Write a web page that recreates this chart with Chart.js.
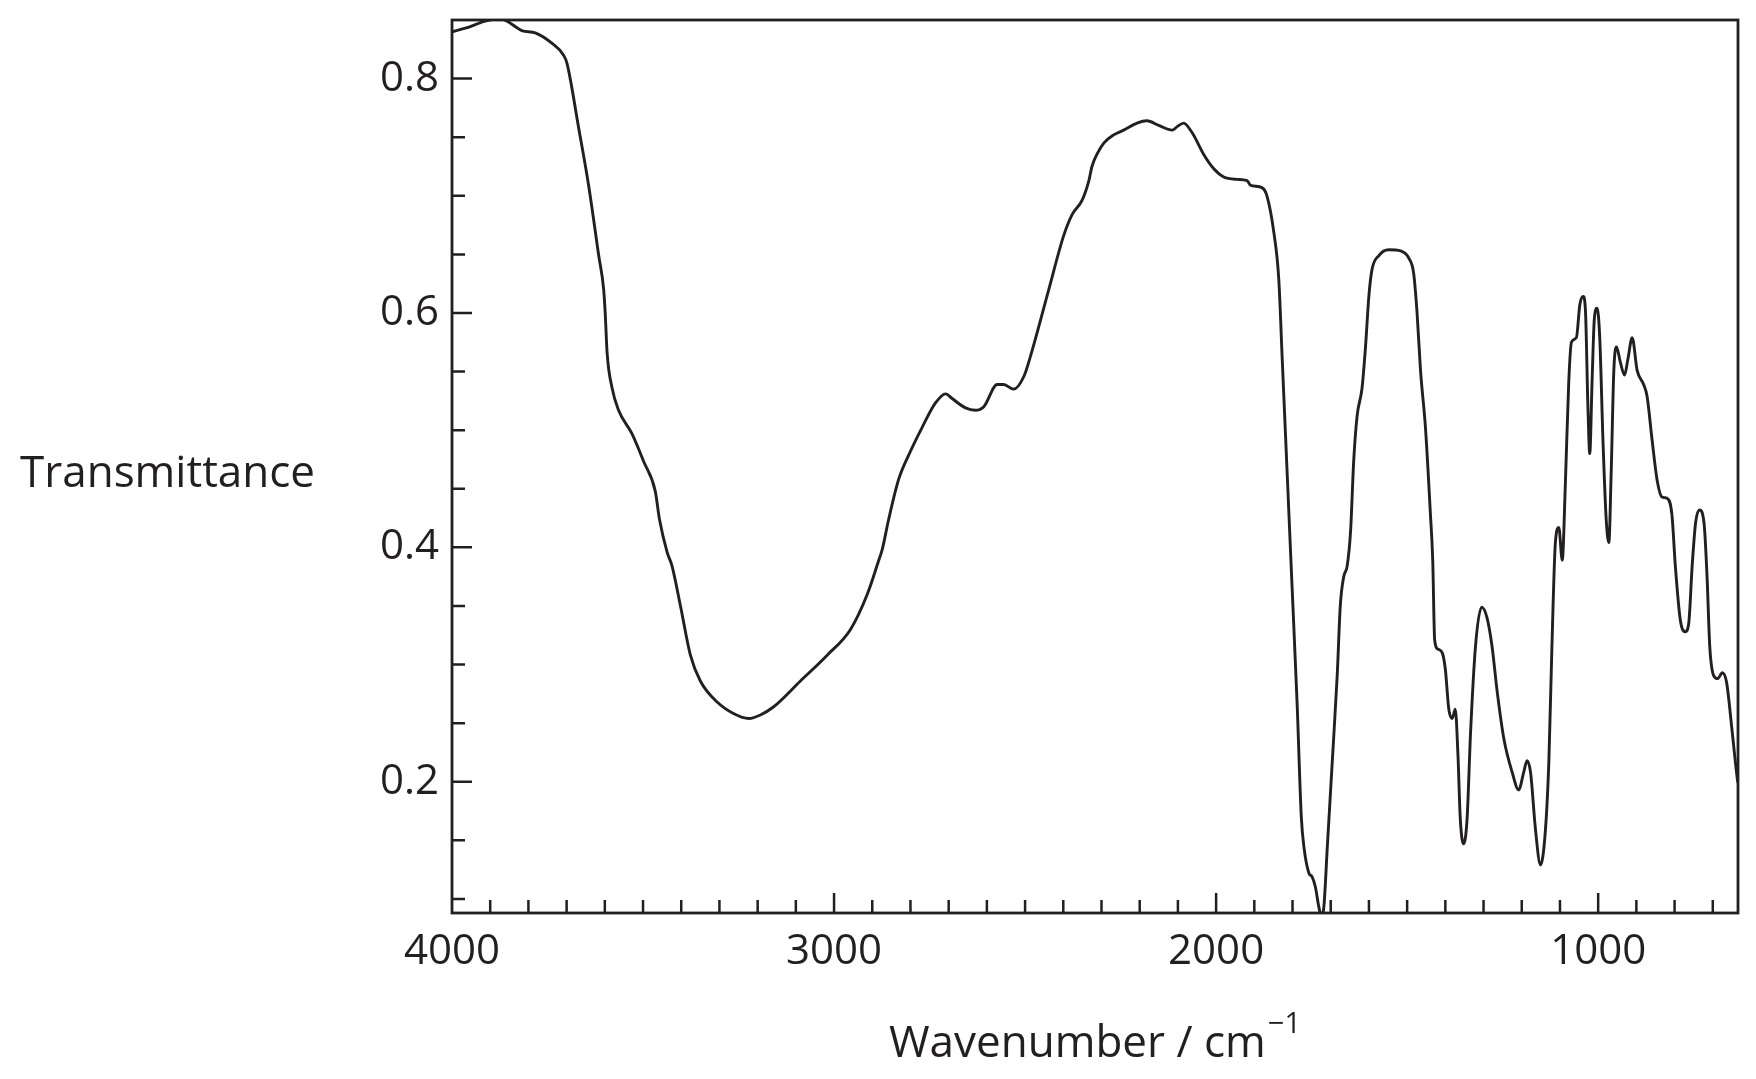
<!DOCTYPE html>
<html>
<head>
<meta charset="utf-8">
<script src="https://cdn.jsdelivr.net/npm/chart.js@4.4.1/dist/chart.umd.min.js"></script>
<style>
html, body { margin: 0; padding: 0; background: #fff; }
#wrap { width: 1756px; height: 1079px; }
</style>
</head>
<body>
<div id="wrap"><canvas id="ir-chart" width="1756" height="1079"></canvas></div>
<script>
// IR spectrum
const wavenumbers = [
	4000, 3965, 3913, 3873, 3856, 3817, 3782, 3738, 3708, 3699,
	3668, 3642, 3616, 3603, 3599, 3594, 3581, 3564, 3529, 3498,
	3468, 3457, 3437, 3424, 3402, 3376, 3350, 3306, 3262, 3223,
	3193, 3158, 3088, 3018, 2957, 2913, 2883, 2874, 2857, 2831,
	2800, 2770, 2735, 2708, 2691, 2656, 2630, 2608, 2573, 2556,
	2530, 2503, 2486, 2438, 2399, 2377, 2351, 2333, 2325, 2311,
	2294, 2268, 2242, 2207, 2181, 2150, 2115, 2102, 2085, 2063,
	2032, 2006, 1980, 1945, 1919, 1910, 1880, 1867, 1849, 1836,
	1827, 1814, 1801, 1788, 1777, 1770, 1757, 1749, 1740, 1731,
	1724, 1718, 1709, 1696, 1683, 1675, 1666, 1657, 1648, 1640,
	1631, 1618, 1609, 1600, 1592, 1574, 1548, 1517, 1496, 1483,
	1474, 1465, 1452, 1439, 1433, 1428, 1419, 1408, 1400, 1391,
	1382, 1374, 1367, 1361, 1352, 1343, 1334, 1321, 1305, 1291,
	1278, 1264, 1247, 1225, 1208, 1195, 1186, 1177, 1164, 1151,
	1138, 1129, 1121, 1112, 1103, 1094, 1086, 1077, 1070, 1057,
	1048, 1039, 1033, 1027, 1022, 1016, 1010, 1003, 996, 987,
	979, 972, 966, 959, 952, 942, 931, 922, 911, 898,
	881, 872, 859, 846, 833, 820, 807, 798, 785, 772,
	763, 754, 745, 735, 723, 715, 708, 697, 687, 675,
	664, 649, 636, 634
];
const transmittance = [
	0.840, 0.843, 0.849, 0.851, 0.849, 0.841, 0.839, 0.830, 0.820, 0.813,
	0.757, 0.708, 0.649, 0.620, 0.600, 0.566, 0.536, 0.517, 0.497, 0.473,
	0.448, 0.424, 0.396, 0.384, 0.350, 0.308, 0.286, 0.268, 0.258, 0.254,
	0.257, 0.264, 0.286, 0.308, 0.330, 0.360, 0.389, 0.398, 0.424, 0.458,
	0.482, 0.502, 0.523, 0.531, 0.527, 0.519, 0.517, 0.520, 0.539, 0.539,
	0.535, 0.546, 0.563, 0.620, 0.666, 0.684, 0.696, 0.713, 0.725, 0.736,
	0.745, 0.752, 0.756, 0.762, 0.764, 0.760, 0.756, 0.759, 0.762, 0.754,
	0.735, 0.723, 0.716, 0.714, 0.713, 0.709, 0.707, 0.700, 0.669, 0.629,
	0.561, 0.463, 0.365, 0.267, 0.170, 0.144, 0.122, 0.119, 0.110, 0.093,
	0.085, 0.093, 0.144, 0.217, 0.291, 0.350, 0.375, 0.384, 0.414, 0.473,
	0.512, 0.536, 0.571, 0.615, 0.637, 0.649, 0.654, 0.653, 0.647, 0.634,
	0.600, 0.551, 0.502, 0.428, 0.389, 0.321, 0.313, 0.310, 0.296, 0.262,
	0.254, 0.262, 0.223, 0.169, 0.147, 0.169, 0.242, 0.316, 0.349, 0.340,
	0.316, 0.276, 0.237, 0.208, 0.193, 0.208, 0.218, 0.208, 0.159, 0.129,
	0.159, 0.218, 0.316, 0.404, 0.417, 0.389, 0.453, 0.541, 0.575, 0.579,
	0.607, 0.614, 0.600, 0.522, 0.480, 0.541, 0.595, 0.604, 0.580, 0.487,
	0.424, 0.404, 0.463, 0.551, 0.571, 0.558, 0.547, 0.561, 0.579, 0.551,
	0.539, 0.529, 0.492, 0.458, 0.443, 0.442, 0.428, 0.384, 0.338, 0.328,
	0.335, 0.384, 0.421, 0.432, 0.421, 0.375, 0.316, 0.290, 0.288, 0.293,
	0.285, 0.242, 0.203, 0.199
];
const xTickLabels = [4000, 3000, 2000, 1000];
const yTickLabels = [0.8, 0.6, 0.4, 0.2];
const xTitle = 'Wavenumber / cm';
const xTitleSup = '\u22121';
const yTitle = 'Transmittance';

const INK = '#231f20';
const FONT = '"Open Sans", "Noto Sans", sans-serif';

// frame, inward tick marks and the two axis titles
const frameAndTicks = {
	id: 'frameAndTicks',
	afterDraw(chart) {
		const { ctx, chartArea: a, scales: { x, y } } = chart;
		ctx.save();
		ctx.strokeStyle = INK;
		ctx.lineWidth = 2.5;
		ctx.beginPath();
		for (let v = 700; v <= 3900; v += 100) {
			const px = x.getPixelForValue(v);
			const len = v % 1000 === 0 ? 20 : 13;
			ctx.moveTo(px, a.bottom);
			ctx.lineTo(px, a.bottom - len);
		}
		for (let i = 2; i <= 16; i++) {
			const py = y.getPixelForValue(i * 0.05);
			const len = i % 4 === 0 ? 20 : 13;
			ctx.moveTo(a.left, py);
			ctx.lineTo(a.left + len, py);
		}
		ctx.stroke();
		ctx.lineWidth = 2.8;
		ctx.strokeRect(a.left, a.top, a.right - a.left, a.bottom - a.top);

		ctx.fillStyle = INK;
		ctx.textBaseline = 'alphabetic';
		ctx.textAlign = 'left';
		ctx.font = '44px ' + FONT;
		ctx.fillText(yTitle, 20, 487);

		const mainW = ctx.measureText(xTitle).width;
		ctx.font = '29px ' + FONT;
		const supW = ctx.measureText(xTitleSup).width;
		const cx = (a.left + a.right) / 2;
		const start = cx - (mainW + 2 + supW) / 2;
		ctx.font = '44px ' + FONT;
		ctx.fillText(xTitle, start, 1057);
		ctx.font = '29px ' + FONT;
		ctx.fillText(xTitleSup, start + mainW + 2, 1033);
		ctx.restore();
	},
};

const ctx = document.getElementById('ir-chart');

new Chart(ctx, {
	type: 'line',
	data: {
		datasets: [
			{
				data: wavenumbers.map((w, i) => ({ x: w, y: transmittance[i] })),
				borderColor: INK,
				borderWidth: 2.9,
				pointRadius: 0,
				fill: false,
				cubicInterpolationMode: 'monotone',
			},
		],
	},
	options: {
		responsive: false,
		animation: false,
		devicePixelRatio: 1,
		layout: { padding: { left: 0, top: 20, right: 18, bottom: 0 } },
		plugins: {
			legend: { display: false },
			tooltip: { enabled: false },
		},
		scales: {
			x: {
				type: 'linear',
				reverse: true,
				min: 634,
				max: 4000,
				grid: { display: false, drawTicks: false },
				border: { display: false },
				afterBuildTicks: (scale) => {
					scale.ticks = xTickLabels.map((v) => ({ value: v }));
				},
				ticks: {
					autoSkip: false,
					maxRotation: 0,
					padding: 14,
					color: INK,
					font: { family: FONT, size: 42 },
					callback: (v) => String(v),
				},
				afterFit: (scale) => {
					scale.height = 1079 - 913;
					scale.paddingLeft = 0;
					scale.paddingRight = 0;
				},
			},
			y: {
				min: 0.088,
				max: 0.85,
				grid: { display: false, drawTicks: false },
				border: { display: false },
				afterBuildTicks: (scale) => {
					scale.ticks = yTickLabels.map((v) => ({ value: v }));
				},
				ticks: {
					autoSkip: false,
					padding: 13,
					color: INK,
					font: { family: FONT, size: 42 },
					callback: (v) => v.toFixed(1),
				},
				afterFit: (scale) => {
					scale.width = 452;
					scale.paddingTop = 0;
					scale.paddingBottom = 0;
				},
			},
		},
	},
	plugins: [frameAndTicks],
});
</script>
</body>
</html>
